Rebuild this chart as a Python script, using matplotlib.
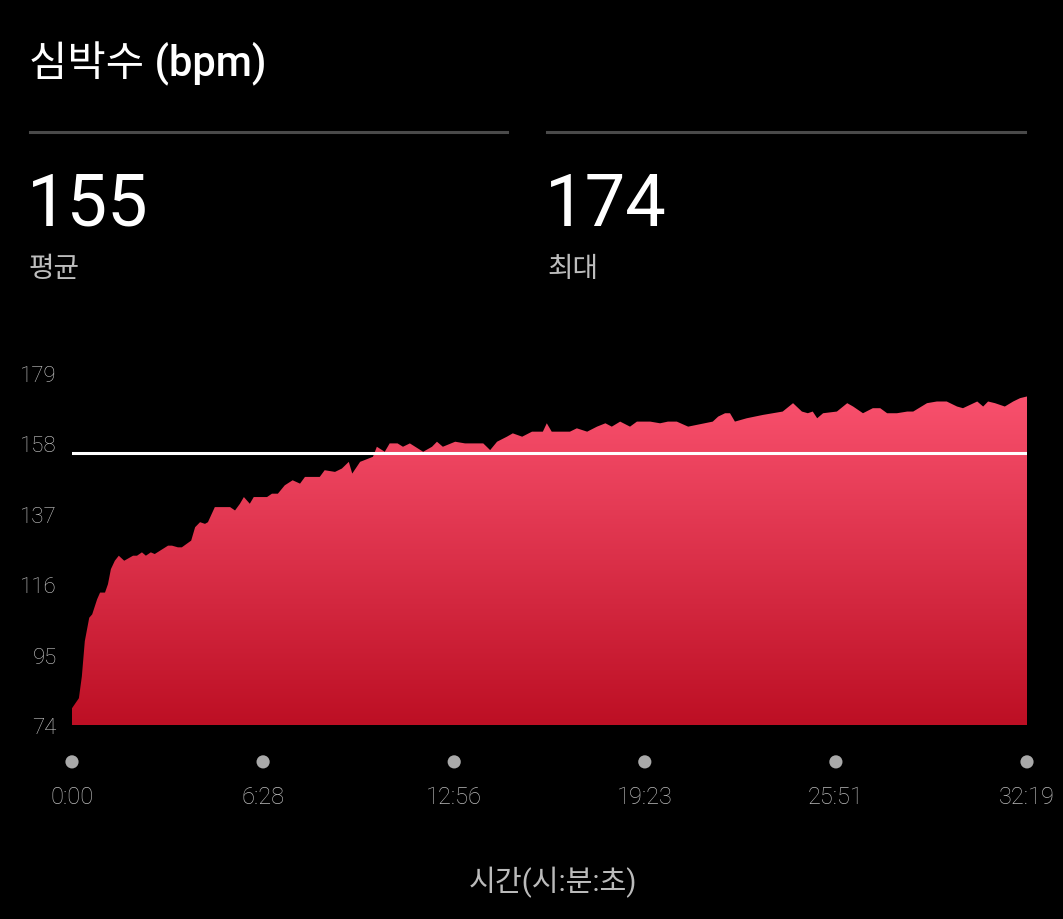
import numpy as np
import matplotlib
matplotlib.use("Agg")
import matplotlib.pyplot as plt
from matplotlib.colors import LinearSegmentedColormap

plt.rcParams['font.family'] = ['Roboto', 'Noto Sans CJK KR', 'DejaVu Sans']

# elapsed time (seconds) and heart rate (bpm)
times = [0, 14, 20, 26, 35, 41, 51, 57, 67, 73, 79, 87, 95, 106, 124, 132, 142, 150,
         160, 168, 195, 203, 215, 223, 242, 250, 260, 270, 276, 290, 321, 331, 341, 349,
         361, 369, 396, 406, 418, 432, 448, 463, 473, 503, 513, 534, 548, 562, 569, 585,
         611, 619, 635, 645, 661, 672, 686, 713, 731, 741, 753, 778, 798, 835, 849, 863,
         883, 895, 914, 934, 956, 964, 974, 1011, 1025, 1046, 1066, 1083, 1096, 1113, 1133,
         1147, 1174, 1194, 1210, 1228, 1251, 1301, 1312, 1326, 1336, 1346, 1370, 1403, 1423,
         1443, 1464, 1482, 1494, 1504, 1513, 1525, 1553, 1574, 1586, 1606, 1626, 1641, 1655,
         1675, 1696, 1708, 1736, 1756, 1776, 1797, 1809, 1838, 1850, 1860, 1874, 1894, 1911,
         1925, 1939]
bpm = [79, 82, 88.5, 99, 106, 107, 111.5, 113.5, 113.5, 116, 120.5, 123, 124.5, 123,
       124.5, 124.5, 125.5, 124.5, 125.5, 125, 127.5, 127.5, 127, 127, 129, 133, 134.5,
       134, 134.5, 139, 139, 138, 140, 142, 140, 142, 142, 143, 143, 145.5, 147, 146,
       148, 148, 150, 149.5, 150.5, 152.5, 149, 152.5, 154, 157, 155.5, 158, 158, 157,
       158, 155.5, 157, 158.5, 157, 158.5, 158, 158, 156, 158.5, 160, 161, 160, 161.5,
       161.5, 164, 161.5, 161.5, 162.5, 161.5, 163, 164, 163, 164.5, 163, 164.5, 164.5,
       164, 164.5, 164.5, 163, 164.5, 166, 167, 167, 164.5, 165.5, 166.5, 167, 167.5,
       170, 167.5, 167, 167.5, 165.5, 167, 167.5, 170, 169, 167, 168.5, 168.5, 167, 167,
       167.5, 167.5, 170, 170.5, 170.5, 169, 168.5, 170.5, 169, 170.5, 170, 169, 170.5,
       171.5, 172]
avg_bpm = 155
max_bpm = 174
y_ticks = [74, 95, 116, 137, 158, 179]
x_ticks = [0, 388, 776, 1163, 1551, 1939]
x_labels = ["0:00", "6:28", "12:56", "19:23", "25:51", "32:19"]

W, H = 1063, 920
fig = plt.figure(figsize=(W / 100, H / 100), dpi=100, facecolor='black')

# header
fig.text(29 / W, 1 - 64 / H, "심박수 (bpm)", color='white', fontsize=30,
         fontweight='medium', va='center', ha='left')
fig.add_artist(plt.Line2D([30 / W, 507 / W], [1 - 133 / H] * 2, color='#4a4a4a', lw=2.2))
fig.add_artist(plt.Line2D([547 / W, 1025 / W], [1 - 133 / H] * 2, color='#4a4a4a', lw=2.2))
fig.text(27 / W, 1 - 206 / H, str(avg_bpm), color='white', fontsize=52,
         fontweight='normal', va='center', ha='left')
fig.text(545 / W, 1 - 206 / H, str(max_bpm), color='white', fontsize=52,
         fontweight='normal', va='center', ha='left')
fig.text(29 / W, 1 - 270 / H, "평균", color='#bdbdbd', fontsize=20, va='center', ha='left')
fig.text(547 / W, 1 - 270 / H, "최대", color='#bdbdbd', fontsize=20, va='center', ha='left')

ax = fig.add_axes([72 / W, 1 - 726 / H, 955 / W, 352 / H])
ax.set_facecolor('black')
ax.set_xlim(0, x_ticks[-1])
ax.set_ylim(y_ticks[0], y_ticks[-1])

# gradient fill clipped to the area under the curve
poly = ax.fill_between(times, bpm, y_ticks[0], color='none', lw=0)
cmap = LinearSegmentedColormap.from_list('hr', ['#bd0f24', '#fa526f'])
grad = np.linspace(0, 1, 256).reshape(-1, 1)
im = ax.imshow(grad, cmap=cmap, aspect='auto', origin='lower',
               extent=[0, x_ticks[-1], y_ticks[0], 174], zorder=1)
im.set_clip_path(poly.get_paths()[0], transform=ax.transData)

ax.axhline(avg_bpm, color='white', lw=2.2, zorder=3)

for s in ax.spines.values():
    s.set_visible(False)
ax.set_yticks(y_ticks)
ax.set_yticklabels([str(v) for v in y_ticks], color='#cccccc', fontsize=16, fontweight='light')
ax.tick_params(axis='y', length=0, pad=11)
ax.set_xticks(x_ticks)
ax.set_xticklabels(x_labels, color='#bbbbbb', fontsize=17, fontweight='light')
ax.tick_params(axis='x', length=0, pad=43)

# tick dots below the chart
ax.scatter(x_ticks, [y_ticks[0] - 11] * len(x_ticks), s=90, color='#a9a9a9',
           clip_on=False, zorder=4, edgecolors='none')

fig.text(553 / W, 1 - 882 / H, "시간(시:분:초)", color='#bbbbbb', fontsize=21,
         va='center', ha='center')

fig.savefig("out.png", dpi=100, facecolor='black')
